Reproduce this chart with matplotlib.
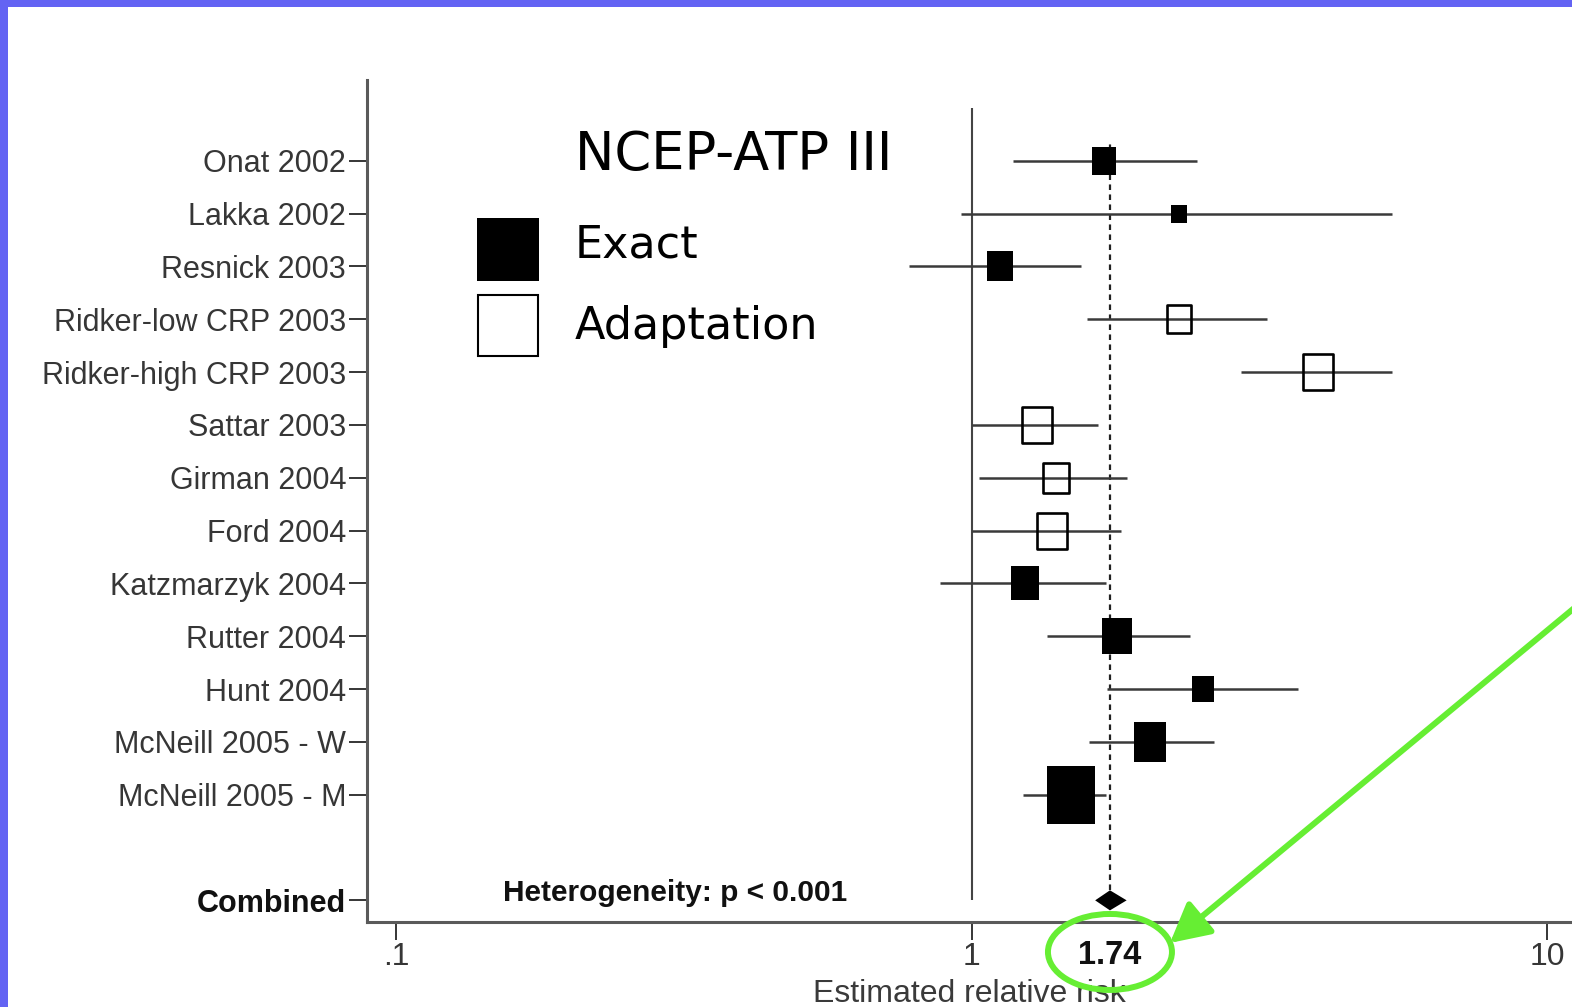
import numpy as np
import matplotlib
matplotlib.use("Agg")
import matplotlib.pyplot as plt
from matplotlib import font_manager
from matplotlib.patches import Rectangle, Ellipse, FancyArrowPatch
from matplotlib.path import Path
from matplotlib.ticker import NullLocator
from matplotlib.transforms import IdentityTransform, ScaledTranslation, blended_transform_factory

# ---- study data (relative risk with 95% CI, pooled weight in %) ----
studies = ["Onat 2002", "Lakka 2002", "Resnick 2003", "Ridker-low CRP 2003",
           "Ridker-high CRP 2003", "Sattar 2003", "Girman 2004", "Ford 2004",
           "Katzmarzyk 2004", "Rutter 2004", "Hunt 2004", "McNeill 2005 - W",
           "McNeill 2005 - M"]
rr = [1.70, 2.29, 1.12, 2.29, 4.00, 1.30, 1.40, 1.38, 1.24, 1.79, 2.52, 2.04, 1.49]
ci_low = [1.18, 0.96, 0.78, 1.59, 2.94, 1.00, 1.03, 1.00, 0.88, 1.35, 1.72, 1.60, 1.23]
ci_high = [2.46, 5.37, 1.55, 3.26, 5.38, 1.66, 1.86, 1.82, 1.71, 2.40, 3.69, 2.64, 1.71]
weights = [5.0, 2.0, 5.5, 5.5, 9.0, 9.0, 6.4, 9.0, 6.9, 7.9, 4.2, 9.5, 20.2]
definition = ["Exact", "Exact", "Exact", "Adaptation", "Adaptation", "Adaptation",
              "Adaptation", "Adaptation", "Exact", "Exact", "Exact", "Exact", "Exact"]

combined_label = "Combined"
combined_rr = 1.74
combined_low = 1.64
combined_high = 1.86
heterogeneity = "Heterogeneity: p < 0.001"

x_ticks = [0.1, 1, 10]
x_tick_labels = [".1", "1", "10"]

# ---- fonts ----
available = {f.name for f in font_manager.fontManager.ttflist}
if "Liberation Sans Narrow" in available:
    label_font, label_size, xtick_size = "Liberation Sans Narrow", 25, 26
else:
    label_font, label_size, xtick_size = "Liberation Sans", 22, 23
bold_font = "Liberation Sans"
legend_font = "DejaVu Sans"

GREEN = "#66EE33"
BLUE = "#6363F3"
INK = "#363636"

W, H = 1572, 1007
fig = plt.figure(figsize=(W / 100, H / 100), dpi=100)
fig.patch.set_facecolor("white")


def fpos(x, y):
    """pixel position (from top-left) -> figure fraction"""
    return x / W, (H - y) / H


ax = fig.add_axes([367 / W, 85 / H, (W - 367) / W, 842 / H])
ax.set_xscale("log")
ax.set_xlim(0.08905, 11.05)
ax.set_ylim(-14.41, 1.53)
ax.set_facecolor("none")

rows = -np.arange(len(studies))
combined_row = -14

# reference line at RR = 1 and pooled estimate
ax.vlines(1, combined_row, 1.0, color="#444444", lw=1.5, zorder=1)
ax.vlines(combined_rr, combined_row, 0.4, color="#222222", lw=1.6,
          linestyles=(0, (2.5, 2.0)), zorder=1)

# study boxes are slightly taller than wide
box = Path([(-1, -1.2), (1, -1.2), (1, 1.2), (-1, 1.2), (-1, -1.2)],
           [Path.MOVETO, Path.LINETO, Path.LINETO, Path.LINETO, Path.CLOSEPOLY])

for y, est, lo, hi, w, kind in zip(rows, rr, ci_low, ci_high, weights, definition):
    ax.plot([lo, hi], [y, y], color="#3a3a3a", lw=1.8, solid_capstyle="butt", zorder=2)
    width_px = 106.8 * np.sqrt(w / 100.0)
    ms = 1.2 * width_px * 0.72
    if kind == "Exact":
        ax.plot(est, y, marker=box, ms=ms, mfc="black", mec="black", mew=0,
                ls="none", zorder=3)
    else:
        ax.plot(est, y, marker=box, ms=ms - 1.4, mfc="none", mec="black", mew=1.9,
                ls="none", zorder=3)

# pooled diamond
ax.fill([combined_low, combined_rr, combined_high, combined_rr],
        [combined_row, combined_row + 0.19, combined_row, combined_row - 0.19],
        color="black", lw=0, zorder=4)

ax.text(0.1535, -13.86, heterogeneity, ha="left", va="center",
        fontsize=21.5, fontweight="bold", family=bold_font, color="#111111")

# axes styling
for side in ("top", "right"):
    ax.spines[side].set_visible(False)
for side in ("left", "bottom"):
    ax.spines[side].set_color("#5a5a5a")
    ax.spines[side].set_linewidth(2.2)

ax.set_yticks(list(rows) + [combined_row])
ax.set_yticklabels(studies + [combined_label])
ax.tick_params(axis="y", direction="out", length=13, width=1.4, color=INK,
               pad=2, labelcolor=INK)
for lbl in ax.get_yticklabels():
    lbl.set_fontfamily(label_font)
    lbl.set_fontsize(label_size)
last = ax.get_yticklabels()[-1]
last.set_fontfamily(bold_font)
last.set_fontsize(22)
last.set_fontweight("bold")
last.set_color("#111111")

ax.xaxis.set_minor_locator(NullLocator())
ax.set_xticks(x_ticks)
ax.set_xticklabels(x_tick_labels)
ax.tick_params(axis="x", direction="out", length=13, width=1.4, color=INK,
               pad=1.5, labelcolor=INK)
for lbl in ax.get_xticklabels():
    lbl.set_fontfamily(label_font)
    lbl.set_fontsize(xtick_size)

ax.text(0.5, -0.095, "Estimated relative risk", transform=ax.transAxes,
        ha="center", va="baseline", fontsize=23, family="Liberation Sans",
        color="#3a3a3a", clip_on=False)

# highlighted pooled value
blend = blended_transform_factory(ax.transData, ax.transAxes)
ax.text(combined_rr, -0.0392, f"{combined_rr:.2f}", transform=blend,
        ha="center", va="center", fontsize=23.5, fontweight="bold",
        family=bold_font, color="#111111", clip_on=False)

ell_y = -0.0356
ring = Ellipse((0, 0), 1.24, 0.76,
               transform=fig.dpi_scale_trans + ScaledTranslation(combined_rr, ell_y, blend),
               fill=False, ec=GREEN, lw=4.3, zorder=6)
fig.add_artist(ring)

cx, cy = blend.transform((combined_rr, ell_y))
tip = (cx + 60, cy + 9)
start = (tip[0] + 1.08 * 414, tip[1] + 1.08 * 343)
arrow = FancyArrowPatch(start, tip, arrowstyle="-|>,head_length=1.7,head_width=0.9",
                        mutation_scale=14, lw=4.3, color=GREEN,
                        transform=IdentityTransform(), shrinkA=0, shrinkB=0, zorder=6)
fig.add_artist(arrow)

# key for the definition used by each study
fig.text(*fpos(575, 170), "NCEP-ATP III", fontsize=38, family=legend_font,
         va="baseline", ha="left", color="black")
x0, y0 = fpos(477, 281)
fig.add_artist(Rectangle((x0, y0), 62 / W, 63 / H, transform=fig.transFigure,
                         fc="black", ec="none", zorder=5))
fig.text(*fpos(575, 257), "Exact", fontsize=32, family=legend_font,
         va="baseline", ha="left", color="black")
x0, y0 = fpos(478, 356)
fig.add_artist(Rectangle((x0, y0), 60 / W, 61 / H, transform=fig.transFigure,
                         fc="white", ec="black", lw=1.5, zorder=5))
fig.text(*fpos(575, 339), "Adaptation", fontsize=32, family=legend_font,
         va="baseline", ha="left", color="black")

# slide frame
fig.add_artist(Rectangle((0, 0), 8 / W, 1, transform=fig.transFigure,
                         fc=BLUE, ec="none", zorder=10))
fig.add_artist(Rectangle((0, 1 - 7 / H), 1, 7 / H, transform=fig.transFigure,
                         fc=BLUE, ec="none", zorder=10))

fig.savefig("out.png", dpi=100, facecolor="white")
